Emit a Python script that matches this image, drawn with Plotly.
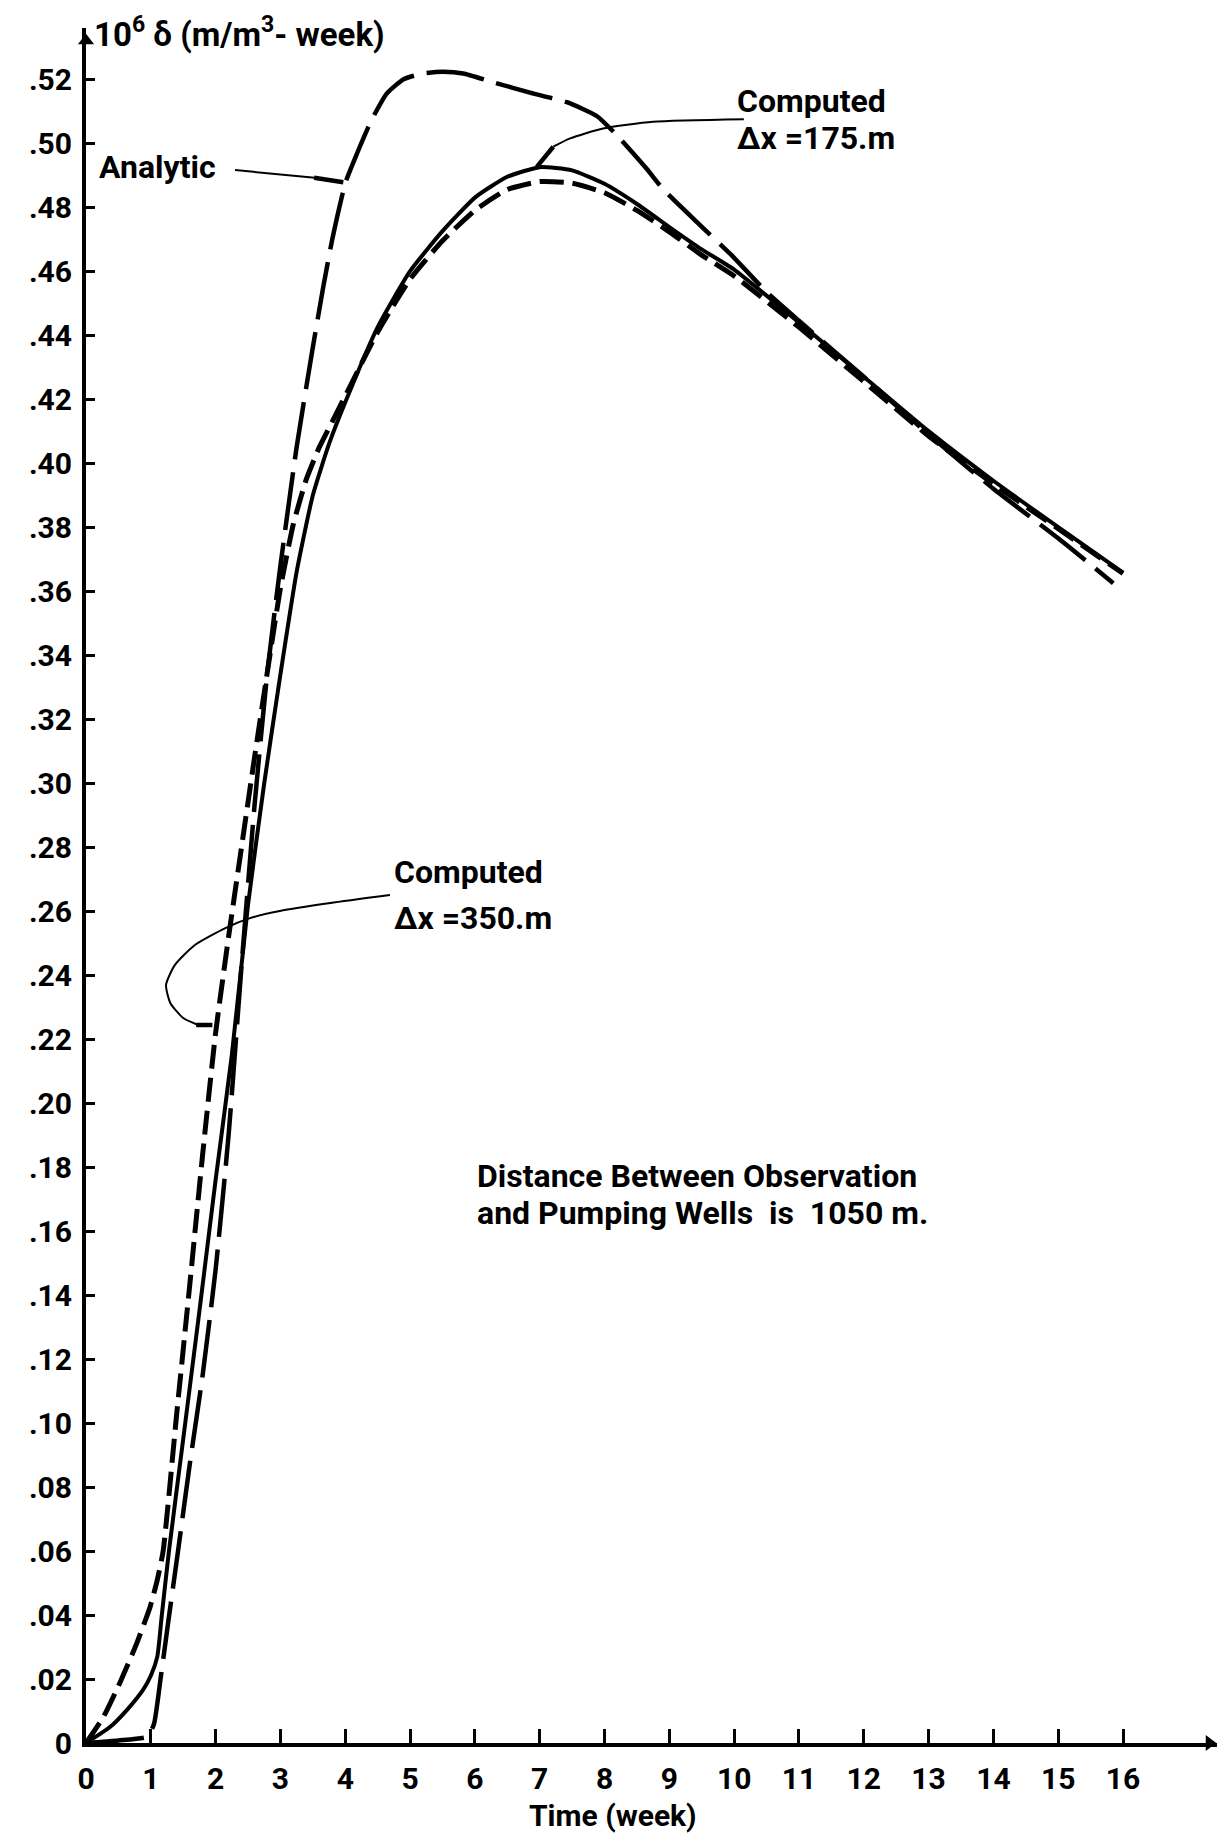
import plotly.graph_objects as go

# ---- data: drawdown (10^6 x value) versus time in weeks ----
analytic_t = [0, 0.5, 0.95, 1.05, 1.15, 1.27, 1.42, 1.6, 1.8, 2.0, 2.2, 2.4, 2.6, 2.8, 3.0,
              3.25, 3.49, 3.66, 3.8, 4.0, 4.18, 4.4, 4.64, 4.9, 5.2, 5.5, 5.82, 6.29, 6.85,
              7.42, 7.88, 8.19, 8.65, 8.91, 9.47, 9.96, 10.5, 11, 12, 13, 14, 15, 15.85]
analytic_v = [0, 0.0008, 0.002, 0.006, 0.02, 0.038, 0.06, 0.087, 0.115, 0.148, 0.19, 0.243,
              0.293, 0.335, 0.368, 0.405, 0.435, 0.455, 0.47, 0.4875, 0.4967, 0.507, 0.5155,
              0.52, 0.5218, 0.5223, 0.5218, 0.519, 0.5158, 0.5128, 0.5085, 0.5025, 0.492,
              0.4855, 0.4745, 0.465, 0.4535, 0.4445, 0.427, 0.409, 0.392, 0.3765, 0.3625]

comp175_t = [0, 0.37, 0.63, 0.88, 1.0, 1.1, 1.17, 1.28, 1.5, 1.75, 2.0, 2.25, 2.5, 2.75, 3.0,
             3.25, 3.5, 3.75, 4.0, 4.5, 5.0, 5.5, 6.0, 6.5, 7.0, 7.5, 8.0, 8.5, 9.0, 9.5, 10,
             11, 12, 13, 14, 15, 16]
comp175_v = [0, 0.005, 0.0103, 0.0166, 0.021, 0.027, 0.04, 0.06, 0.095, 0.135, 0.176, 0.215,
             0.262, 0.3, 0.334, 0.366, 0.39, 0.406, 0.419, 0.4425, 0.46, 0.4725, 0.483, 0.4895,
             0.4925, 0.4915, 0.4873, 0.481, 0.4738, 0.4668, 0.4605, 0.444, 0.427, 0.41,
             0.3945, 0.38, 0.3658]

comp350_t = [0, 0.27, 0.52, 0.78, 0.99, 1.1, 1.19, 1.4, 1.6, 1.8, 2.0, 2.2, 2.4, 2.6, 2.8,
             3.0, 3.2, 3.4, 3.6, 3.8, 4.0, 4.5, 5.0, 5.5, 6.0, 6.5, 7.0, 7.5, 8.0, 8.5, 9.0,
             9.5, 10, 11, 12, 13, 14, 15, 16]
comp350_v = [0, 0.0082, 0.0187, 0.031, 0.0426, 0.051, 0.06, 0.103, 0.143, 0.184, 0.222,
             0.252, 0.28, 0.308, 0.335, 0.361, 0.381, 0.395, 0.405, 0.413, 0.421, 0.441,
             0.4575, 0.4695, 0.479, 0.4855, 0.488, 0.4875, 0.4845, 0.479, 0.4723, 0.465,
             0.4585, 0.4425, 0.4255, 0.4085, 0.3935, 0.3795, 0.3655]

week_ticks = list(range(0, 17))
value_ticks = [i / 50 for i in range(0, 27)]
value_labels = ["0"] + [".%02d" % (2 * i) for i in range(1, 27)]

X_END = 17.45   # end of the time axis (arrow tip)
Y_END = 0.536   # end of the value axis (arrow tip)

# ---- pointer (leader) lines for the labels, in axis units ----
ptr_analytic_thin = ([2.30, 3.57], [0.4916, 0.4891])
ptr_analytic_end = ([3.52, 3.97], [0.4892, 0.4878])
ptr_175_end = ([6.955, 7.21], [0.4926, 0.4989])
ptr_175_thin = ([7.21, 7.47, 7.98, 8.75, 10.15], [0.4989, 0.5015, 0.5046, 0.5067, 0.5075])
ptr_350_thin = ([4.69, 3.77, 2.99, 2.53, 2.15, 1.68, 1.37, 1.235, 1.30, 1.50, 1.73],
                [0.265, 0.2625, 0.26, 0.2578, 0.2547, 0.2494, 0.2431, 0.2369, 0.2313,
                 0.2266, 0.2244])
ptr_350_end = ([1.70, 1.95], [0.2244, 0.2244])

FONT = "Roboto"
INK = "black"

fig = go.Figure()

fig.add_trace(go.Scatter(x=analytic_t, y=analytic_v, mode="lines", name="Analytic",
                         line=dict(color=INK, width=4.5, dash="58px,13px",
                                   shape="spline", smoothing=0.5)))
fig.add_trace(go.Scatter(x=comp175_t, y=comp175_v, mode="lines", name="Computed 175 m",
                         line=dict(color=INK, width=4, shape="spline", smoothing=0.5)))
fig.add_trace(go.Scatter(x=comp350_t, y=comp350_v, mode="lines", name="Computed 350 m",
                         line=dict(color=INK, width=5, dash="24px,9px",
                                   shape="spline", smoothing=0.5)))

for (px, py), w in [(ptr_analytic_thin, 2), (ptr_analytic_end, 4.5), (ptr_175_end, 4.5),
                    (ptr_175_thin, 2), (ptr_350_thin, 2), (ptr_350_end, 4.5)]:
    fig.add_trace(go.Scatter(x=px, y=py, mode="lines", hoverinfo="skip",
                             line=dict(color=INK, width=w, shape="spline", smoothing=0.6)))

# arrowheads closing both axes
fig.add_trace(go.Scatter(x=[0], y=[Y_END - 0.004], mode="markers", hoverinfo="skip",
                         cliponaxis=False,
                         marker=dict(symbol="triangle-up", size=14, color=INK)))
fig.add_trace(go.Scatter(x=[X_END - 0.12], y=[0], mode="markers", hoverinfo="skip",
                         cliponaxis=False,
                         marker=dict(symbol="triangle-right", size=14, color=INK)))

label_font = dict(family=FONT, size=32, color=INK, weight="bold")


def note(text, x, y, xanchor="left", font=label_font, yref="y"):
    fig.add_annotation(x=x, y=y, xref="x", yref=yref, text=text, showarrow=False,
                       xanchor=xanchor, yanchor="middle", font=font)


note("Analytic", 0.17, 0.4925)
note("Computed", 10.02, 0.5131)
note("Δx =175.m", 10.02, 0.5016)
note("Computed", 4.72, 0.2722)
note("Δx =350.m", 4.72, 0.2580)
note("Distance Between Observation", 6.0, 0.1772)
note("and Pumping Wells  is  1050 m.", 6.0, 0.1656)

# axis titles
note("10<sup>6</sup> δ (m/m<sup>3</sup>- week)", 0.09, 0.5347,
     font=dict(family=FONT, size=33, color=INK, weight="bold"))
note("Time (week)", 8.13, -0.0425, xanchor="center", yref="paper",
     font=dict(family=FONT, size=30, color=INK, weight="bold"))

fig.update_layout(
    width=1225, height=1841, autosize=False,
    margin=dict(l=86, r=8, t=28, b=98),
    paper_bgcolor="white", plot_bgcolor="white",
    showlegend=False,
    xaxis=dict(range=[0, X_END], tickvals=week_ticks, ticktext=[str(w) for w in week_ticks],
               ticks="inside", ticklen=14, tickwidth=3, tickcolor=INK,
               showline=True, linewidth=4, linecolor=INK, showgrid=False, zeroline=False,
               ticklabelstandoff=6,
               tickfont=dict(family=FONT, size=30, color=INK, weight="bold")),
    yaxis=dict(range=[0, Y_END], tickvals=value_ticks, ticktext=value_labels,
               ticks="inside", ticklen=9, tickwidth=3, tickcolor=INK,
               showline=True, linewidth=4, linecolor=INK, showgrid=False, zeroline=False,
               ticklabelstandoff=4,
               tickfont=dict(family=FONT, size=30, color=INK, weight="bold")),
)

fig.write_html("out.html")
